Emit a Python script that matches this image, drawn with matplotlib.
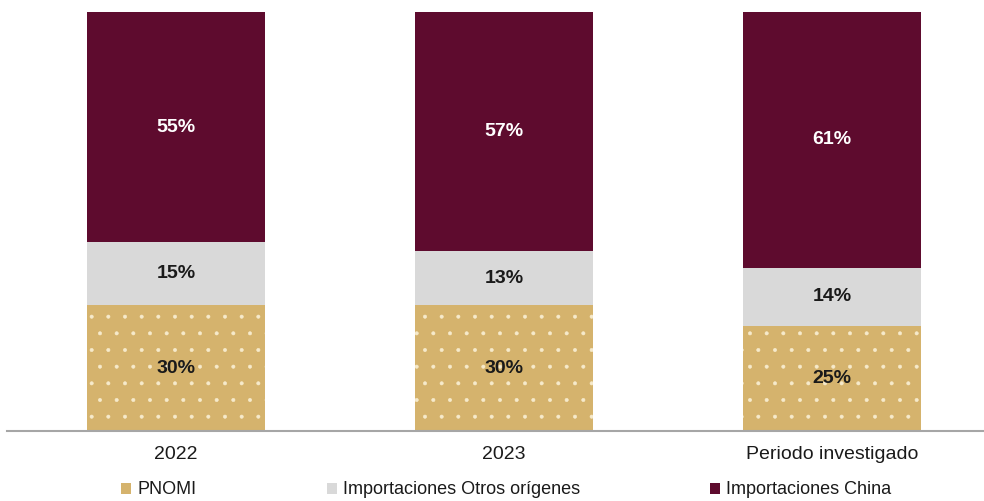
import numpy as np
import matplotlib.pyplot as plt
from matplotlib.patches import Patch

plt.rcParams['font.family'] = ['Liberation Sans', 'DejaVu Sans']
plt.rcParams['hatch.linewidth'] = 0.4

# Data
categories = ['2022', '2023', 'Periodo investigado']
series_names = ['PNOMI', 'Importaciones Otros orígenes', 'Importaciones China']
pnomi = [30, 30, 25]
otros = [15, 13, 14]
china = [55, 57, 61]

colors = ['#D5B36D', '#D9D9D9', '#5E0B2E']
text_colors = ['#1a1a1a', '#1a1a1a', 'white']

fig = plt.figure(figsize=(9.84, 5.01), dpi=100)
ax = fig.add_axes([7 / 984, 70 / 501, 977 / 984, 419 / 501])

x = np.arange(len(categories))
width = 0.543
bottom = np.zeros(len(categories))
for vals, name, col, tcol in zip([pnomi, otros, china], series_names, colors, text_colors):
    vals = np.array(vals, dtype=float)
    if name == 'PNOMI':
        # dotted texture on the PNOMI segments
        ax.bar(x, vals, width, bottom=bottom, color=col, edgecolor='#F6EACB',
               hatch='.', linewidth=0)
    else:
        ax.bar(x, vals, width, bottom=bottom, color=col, linewidth=0)
    for xi, v, b in zip(x, vals, bottom):
        ax.text(xi, b + v / 2, f"{v:.0f}%", ha='center', va='center',
                fontsize=14, fontweight='bold', color=tcol)
    bottom += vals

ax.set_xlim(-0.515, 2.463)
ax.set_ylim(0, 100)
ax.set_yticks([])
ax.set_xticks(x)
ax.set_xticklabels(categories, fontsize=14, color='#1a1a1a')
ax.tick_params(axis='x', length=0, pad=11)
for s in ['top', 'right', 'left']:
    ax.spines[s].set_visible(False)
ax.spines['bottom'].set_color('#A6A6A6')
ax.spines['bottom'].set_linewidth(1.5)

handles = [Patch(facecolor=c, edgecolor='none') for c in colors]
fig.legend(handles, series_names, loc='center', bbox_to_anchor=(0.5145, 0.022),
           ncol=3, frameon=False, fontsize=13, handlelength=0.55, handleheight=0.55,
           handletextpad=0.35, columnspacing=7.2, labelcolor='#1a1a1a')

fig.savefig('out.png', dpi=100)
